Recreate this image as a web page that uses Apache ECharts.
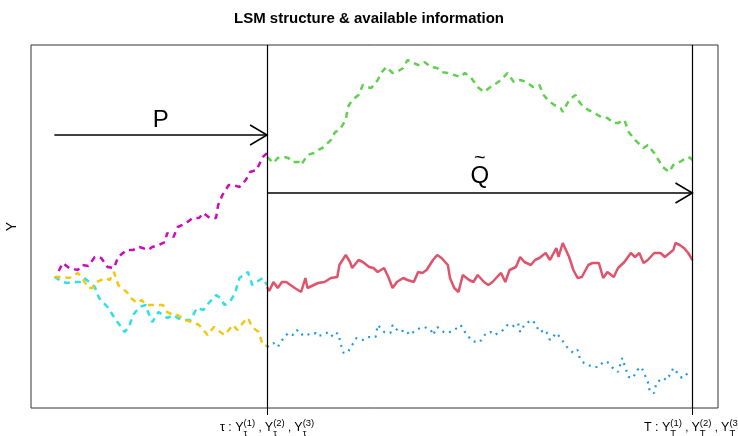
<!DOCTYPE html>
<html><head><meta charset="utf-8">
<script src="https://cdn.jsdelivr.net/npm/echarts@6/dist/echarts.min.js"></script>
<style>html,body{margin:0;padding:0;background:#fff}#c{width:738px;height:436px}</style>
</head><body><div id="c"></div>
<script>
// time step (tau = 100, T = 300), value Y
const magentaPath = [[2,103],[4,107],[7,104.5],[11,103.5],[13,106],[16,105.5],[19,110],[22,109.5],[25,105],[28,104.5],[30,110],[34,113.5],[37,113.5],[40,115],[44,113.5],[46,115],[49,116],[52,117.5],[53,122],[56,120],[58,125],[62,127],[65,129.5],[68,129.5],[70,132],[73,129.5],[76,129.5],[77,136],[79,141],[82,146],[84,146],[87,145],[90,148.5],[92,152.5],[95,153.5],[98,160],[100,162]];
const cyanPath = [[0,100],[4,97.5],[6,97],[9,97.5],[12,97.5],[14,99.5],[17,97],[19,95],[21,89.5],[25,85],[28,80],[30,77],[33,72.5],[35,75],[37,81],[40,85],[43,86],[44,82.5],[46,77.5],[49,82.5],[51,81],[53,79.5],[56,81],[58,79.5],[60,78.5],[64,78.5],[67,84.5],[70,83.5],[73,87.5],[76,91],[78,89.5],[80,86],[83,88.5],[85,92],[87,99.5],[91,102.5],[93,96],[95,97.5],[98,99.5],[100,96]];
const goldPath = [[0,100],[4,100],[7,99.5],[11,102],[13,99.5],[16,94.5],[18,94.5],[20,97.5],[24,99.5],[26,98.5],[28,102.5],[30,96],[34,92.5],[36,89.5],[39,87],[41,88.5],[43,86],[45,86],[48,86],[51,86],[53,82.5],[56,81],[58,81],[61,78.5],[65,77.5],[68,76],[72,71],[75,75],[78,72.5],[80,71],[84,76],[86,73.5],[89,77.5],[91,79.5],[93,75],[96,72.5],[98,66],[100,65.5]];
const greenPath = [[100,160],[103,157],[105,159.5],[108,160],[110,159.5],[112,157.5],[115,157.5],[116,156],[119,161],[122,162],[124,163.5],[126,164.5],[130,168.5],[132,172.5],[134,173.5],[137,178.5],[138,185],[140,188.5],[143,191],[145,196],[147,195],[149,194.5],[152,198.5],[154,202.5],[156,205],[159,202],[161,202.5],[164,204.5],[166,208.5],[168,207.5],[171,206],[172,206],[174,207.5],[177,205],[180,204.5],[182,202.5],[185,202],[188,201],[191,200],[193,202],[196,199.5],[199,195],[202,192.5],[205,195],[208,197],[210,198.5],[213,202],[216,197.5],[219,198.5],[222,197.5],[225,195],[228,196],[230,191],[232,188.5],[235,186],[238,184.5],[239,182.5],[242,188.5],[245,191],[246,188.5],[248,186],[251,183.5],[254,182],[257,180],[260,179.5],[263,177],[265,177],[268,178.5],[270,172.5],[273,168.5],[277,164.5],[279,166],[282,162],[284,158.5],[286,155],[289,152.5],[291,156],[294,157.5],[298,160],[299,159.5],[300,158.5]];
const redPath = [[100,95],[101,93],[103,97.5],[105,94.5],[107,97.5],[109,97.5],[111,96],[113,94.5],[116,92.5],[118,99.5],[119,94.5],[122,96],[124,97],[127,97.5],[130,99.5],[133,100],[134,106],[137,111],[139,107.5],[140,104.5],[143,108.5],[145,107.5],[148,105],[150,104.5],[152,102.5],[155,104.5],[157,100],[159,94.5],[161,97.5],[164,99.5],[166,98.5],[169,97.5],[171,102.5],[173,102],[175,103.5],[178,108.5],[180,111],[182,109.5],[185,106],[186,99.5],[188,94.5],[190,92.5],[192,101],[195,98.5],[197,97.5],[199,101],[202,97.5],[204,96],[206,97.5],[209,101],[210,102],[212,97.5],[214,103.5],[217,105],[219,110],[221,107.5],[224,106],[226,108.5],[228,109.5],[231,112],[233,108.5],[236,114.5],[237,110],[239,117],[242,110],[244,103.5],[246,99.5],[248,100],[251,106],[253,107],[256,107],[258,99.5],[260,102.5],[263,100],[265,104.5],[268,107.5],[271,112],[273,110],[275,112],[277,107],[279,108.5],[282,112],[285,112],[287,110],[291,113.5],[292,117],[294,116],[296,114.5],[298,112],[300,108.5]];
const bluePath = [[100,65],[103,67],[105,65],[108,70],[110,72],[112,71],[114,73.5],[116,71],[118,72],[120,71],[123,72],[124,70.5],[126,71],[129,72.5],[131,70],[133,72],[134,69.5],[135,65],[136,62],[138,62.5],[140,66],[142,69.5],[145,68.5],[147,69.5],[148,70],[151,70],[152,76],[155,72.5],[158,72],[159,76],[162,72.5],[165,73.5],[167,71],[170,73.5],[172,74.5],[174,75],[177,73.5],[178,71],[180,75],[183,72.5],[185,72],[188,73.5],[191,76],[193,72.5],[196,68.5],[198,67.5],[200,67.5],[203,72],[205,72.5],[207,71],[211,73.5],[213,76],[215,75],[218,77],[219,72.5],[221,76],[224,78.5],[226,77],[228,72.5],[231,73.5],[233,68.5],[236,72],[238,69.5],[241,65],[244,62],[246,63.5],[247,59.5],[249,57],[251,56],[253,55],[256,55],[258,57.5],[260,57.5],[262,55],[265,52.5],[267,59.5],[268,56],[270,50],[272,49.5],[274,53.5],[276,55],[277,52.5],[279,47.5],[280,42.5],[282,42],[283,47],[286,49.5],[288,48.5],[291,54.5],[293,52],[295,49.5],[298,52],[299,52.5]];

const tickSteps = [100, 300];
const tickSymbols = ['τ', 'T'];
const supLabels = ['(1)', '(2)', '(3)'];
const arrowSegments = [[0, 100, 171], [100, 300, 142]];
const arrowLabels = ['P', 'Q'];
const arrowLabelPos = [[50, 178.5], [200, 150.5]];
const arrowLabelTilde = [false, true];
const X_MIN = -11, X_MAX = 312, Y_MIN = 34.5, Y_MAX = 216;

const FONT = '"Liberation Sans", Arial, sans-serif';
const mctx = document.createElement('canvas').getContext('2d');
function tw(t, s) { mctx.font = s + 'px ' + FONT; return mctx.measureText(t).width; }

function lineSeries(data, color, type, width) {
  return { type: 'line', data: data, showSymbol: false, symbol: 'none', smooth: false,
    lineStyle: { color: color, type: type, width: width }, silent: true, animation: false };
}

const chart = echarts.init(document.getElementById('c'), null, { renderer: 'canvas' });
const red = lineSeries(redPath, '#DF536B', 'solid', 2.5);
red.markLine = { silent: true, symbol: 'none', label: { show: false },
  lineStyle: { color: '#000', type: 'solid', width: 1.2 },
  data: tickSteps.map(v => ({ xAxis: v })), animation: false };

chart.setOption({
  animation: false,
  title: { text: 'LSM structure & available information', left: 'center', top: 6,
    textStyle: { fontFamily: FONT, fontSize: 15, fontWeight: 'bold', color: '#000' } },
  grid: { left: 31, right: 20, top: 45, bottom: 28, outerBoundsMode: 'none', containLabel: false,
    show: true, borderColor: '#333', borderWidth: 1, backgroundColor: 'transparent' },
  xAxis: { type: 'value', min: X_MIN, max: X_MAX, splitLine: { show: false },
    axisLine: { show: false },
    axisTick: { show: true, customValues: tickSteps, length: 7, lineStyle: { color: '#000', width: 1 } },
    axisLabel: { show: false } },
  yAxis: { type: 'value', min: Y_MIN, max: Y_MAX, splitLine: { show: false },
    axisLine: { show: false }, axisTick: { show: false }, axisLabel: { show: false },
    name: 'Y', nameLocation: 'middle', nameGap: 12,
    nameTextStyle: { fontFamily: FONT, fontSize: 14, color: '#000' } },
  series: [
    lineSeries(magentaPath, '#CD0BBC', [6, 5], 2.5),
    lineSeries(cyanPath, '#28E2E5', [6, 5], 2.5),
    lineSeries(goldPath, '#F5C710', [6, 5], 2.5),
    lineSeries(greenPath, '#61D04F', [6, 5], 2.5),
    red,
    lineSeries(bluePath, '#2297E6', [2, 5], 2.2),
    { type: 'custom', silent: true, animation: false, z: 5,
      data: arrowSegments.map(s => [s[0], s[2]]),
      renderItem: (params, api) => {
        const s = arrowSegments[params.dataIndex];
        const a = api.coord([s[0], s[2]]), b = api.coord([s[1], s[2]]);
        return { type: 'group', children: [
          { type: 'line', shape: { x1: a[0], y1: a[1], x2: b[0], y2: b[1] }, style: { stroke: '#000', lineWidth: 1.5 } },
          { type: 'polyline', shape: { points: [[b[0] - 17, b[1] - 10], [b[0], b[1]], [b[0] - 17, b[1] + 10]] },
            style: { stroke: '#000', lineWidth: 1.5, fill: null } }
        ] };
      } },
    { type: 'custom', silent: true, animation: false, z: 5,
      data: arrowLabelPos,
      renderItem: (params, api) => {
        const i = params.dataIndex;
        const p = api.coord(arrowLabelPos[i]);
        const kids = [{ type: 'text', x: p[0], y: p[1], style: { text: arrowLabels[i], fontSize: 24, fontFamily: FONT, fill: '#000', align: 'center', verticalAlign: 'middle', textAlign: 'center', textVerticalAlign: 'middle' } }];
        if (arrowLabelTilde[i]) kids.push({ type: 'text', x: p[0], y: p[1] - 18, style: { text: '~', fontSize: 20, fontFamily: FONT, fill: '#000', align: 'center', verticalAlign: 'middle', textAlign: 'center', textVerticalAlign: 'middle' } });
        return { type: 'group', children: kids };
      } },
    { type: 'custom', silent: true, animation: false, z: 5,
      data: tickSteps.map(v => [v, Y_MIN]),
      renderItem: (params, api) => {
        const i = params.dataIndex;
        const p = api.coord([tickSteps[i], Y_MIN]);
        const M = 12.5, S = 9.5;
        const pieces = [{ t: tickSymbols[i] + ' : ', s: M }];
        supLabels.forEach((sl, k) => {
          pieces.push({ t: 'Y', s: M });
          pieces.push({ sup: sl, sub: tickSymbols[i], s: S });
          if (k < supLabels.length - 1) pieces.push({ t: ' , ', s: 11.5 });
        });
        let total = 0;
        pieces.forEach(pc => { pc.w = pc.t !== undefined ? tw(pc.t, pc.s) : Math.max(tw(pc.sup, pc.s), tw(pc.sub, pc.s)); total += pc.w; });
        let x = p[0] - total / 2;
        const kids = [];
        const st = (text, size) => ({ text: text, fontSize: size, fontFamily: FONT, fill: '#000', align: 'left', verticalAlign: 'middle', textAlign: 'left', textVerticalAlign: 'middle' });
        pieces.forEach(pc => {
          if (pc.t !== undefined) kids.push({ type: 'text', x: x, y: p[1] + 20, style: st(pc.t, pc.s) });
          else {
            kids.push({ type: 'text', x: x, y: p[1] + 15, style: st(pc.sup, pc.s) });
            kids.push({ type: 'text', x: x, y: p[1] + 25, style: st(pc.sub, pc.s) });
          }
          x += pc.w;
        });
        return { type: 'group', children: kids };
      } }
  ]
});
</script></body></html>
